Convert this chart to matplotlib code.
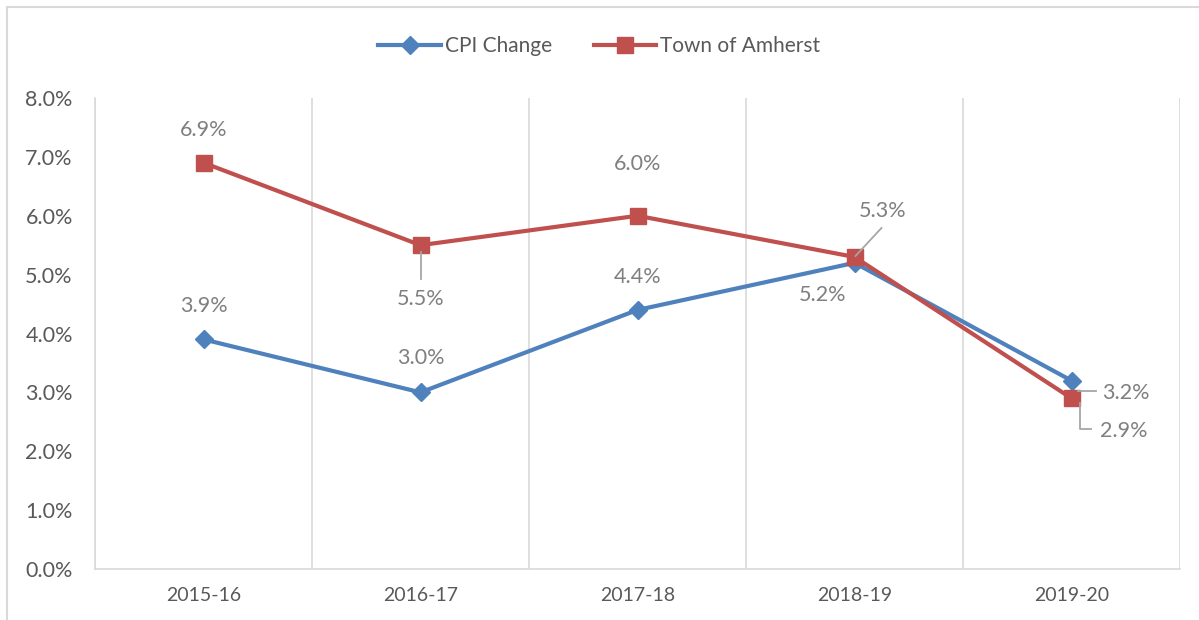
import matplotlib.pyplot as plt
import matplotlib.patches as patches
from matplotlib.lines import Line2D
from matplotlib.ticker import FuncFormatter, MultipleLocator

years = ["2015-16", "2016-17", "2017-18", "2018-19", "2019-20"]
cpi_change = [3.9, 3.0, 4.4, 5.2, 3.2]
town_amherst = [6.9, 5.5, 6.0, 5.3, 2.9]

BLUE = "#4F81BD"
RED = "#C0504D"
LABEL_GRAY = "#7F7F7F"
TICK_GRAY = "#595959"
GRID_GRAY = "#D9D9D9"
LEADER_GRAY = "#A6A6A6"

plt.rcParams["font.family"] = ["Lato", "DejaVu Sans"]

fig = plt.figure(figsize=(11.99, 6.2), dpi=100)
W, H = 1199, 620
ax = fig.add_axes([95 / W, (H - 569) / H, (1180 - 95) / W, (569 - 98) / H])

xs = list(range(len(years)))
ax.plot(xs, cpi_change, color=BLUE, lw=3.0, marker="D", ms=9.5,
        label="CPI Change", zorder=3)
ax.plot(xs, town_amherst, color=RED, lw=3.0, marker="s", ms=11.5,
        label="Town of Amherst", zorder=4)

ax.set_xlim(-0.5, len(years) - 0.5)
ax.set_ylim(0, 8)
ax.yaxis.set_major_locator(MultipleLocator(1))
ax.yaxis.set_major_formatter(FuncFormatter(lambda v, _: f"{v:.1f}%"))
ax.set_xticks(xs)
ax.set_xticklabels(years)
ax.set_xticks([x - 0.5 for x in range(len(years) + 1)], minor=True)
ax.grid(True, which="minor", axis="x", color=GRID_GRAY, lw=1.2)
ax.tick_params(axis="both", which="both", length=0)
ax.tick_params(axis="y", labelsize=15.5, colors=TICK_GRAY, pad=16)
ax.tick_params(axis="x", labelsize=14, colors=TICK_GRAY, pad=13)
for side in ["top", "right"]:
    ax.spines[side].set_visible(False)
for side in ["left", "bottom"]:
    ax.spines[side].set_color(GRID_GRAY)
    ax.spines[side].set_linewidth(1.2)

# data labels: (dx, dy) offsets in pixels from the marker
cpi_offsets = [(0, 33), (0, 34), (0, 33), (-32, -32), (54, -12)]
town_offsets = [(0, 33), (0, -54), (0, 52), (28, 46), (52, -33)]

for series, offsets in [(cpi_change, cpi_offsets), (town_amherst, town_offsets)]:
    for i, (v, (dx, dy)) in enumerate(zip(series, offsets)):
        ax.annotate(f"{v:.1f}%", xy=(i, v), xytext=(dx, dy),
                    textcoords="offset pixels", ha="center", va="center",
                    fontsize=15.5, color=LABEL_GRAY, zorder=5)

# leader lines for labels moved away from their markers
leaders = [
    (town_amherst, 1, [(0, -7), (0, -34)]),
    (town_amherst, 3, [(1, 1), (27, 29)]),
    (cpi_change, 4, [(6, -10), (24, -10)]),
    (town_amherst, 4, [(8, -5), (8, -31), (19, -31)]),
]
fig.canvas.draw()
for series, i, pts in leaders:
    px, py = ax.transData.transform((i, series[i]))
    line = Line2D([px + p[0] for p in pts], [py + p[1] for p in pts],
                  color=LEADER_GRAY, lw=1.3, transform=None, zorder=6)
    fig.add_artist(line)

leg = fig.legend(loc="center", bbox_to_anchor=(0.5, 1 - 46 / H), ncol=2,
                 frameon=False, fontsize=15, handlelength=3.0,
                 columnspacing=2.0, handletextpad=0.2)
for t in leg.get_texts():
    t.set_color(TICK_GRAY)

border = patches.Rectangle((7 / W, -0.1), 1.2, 1 - 7 / H + 0.1,
                           transform=fig.transFigure, fill=False,
                           edgecolor=GRID_GRAY, lw=1.5)
fig.add_artist(border)

fig.savefig("out.png", dpi=100)
